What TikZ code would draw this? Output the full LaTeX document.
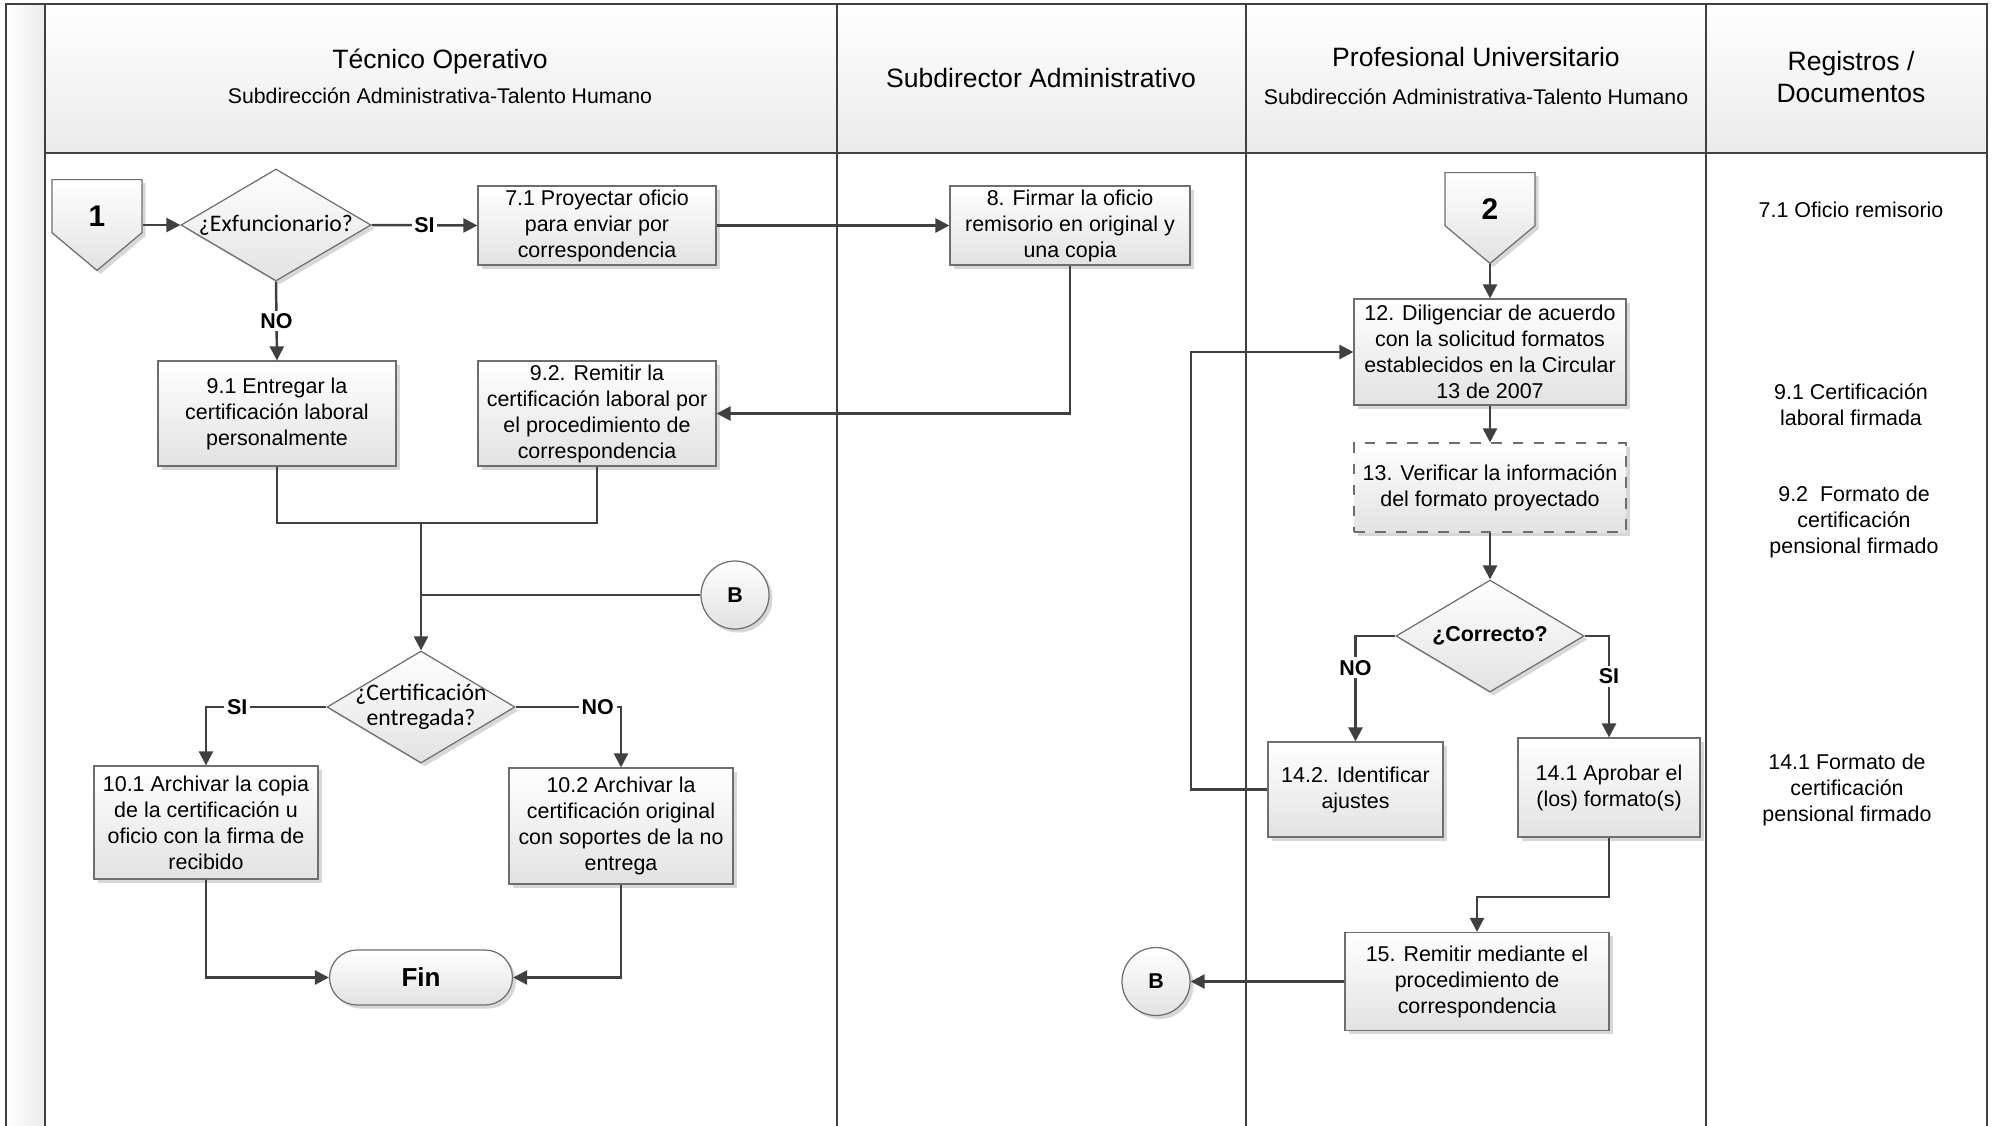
\documentclass[tikz,border=0pt]{standalone}
\usepackage{fontspec}
\setmainfont{Liberation Sans}
\newfontfamily\calib{Carlito}
\usetikzlibrary{shapes.geometric,shapes.misc,shapes.symbols,shadows,arrows.meta}

\definecolor{linegray}{HTML}{404040}
\definecolor{boxgray}{HTML}{6E6E6E}
\definecolor{fillgray}{HTML}{E2E2E2}

\begin{document}
\begin{tikzpicture}[x=1cm, y=1cm,
	every node/.style={font=\fontsize{6.1}{7.4}\selectfont, align=center, inner sep=1pt},
	boxshadow/.style={drop shadow={shadow xshift=1pt, shadow yshift=-1pt, fill=black!45, opacity=0.35}},
	stepbox/.style={rectangle, draw=boxgray, line width=0.35pt, top color=white, bottom color=fillgray, boxshadow},
	decision/.style={diamond, aspect=1.7, draw=boxgray, line width=0.35pt, top color=white, bottom color=fillgray, boxshadow, inner sep=-2pt, minimum width=1.9cm, minimum height=1.12cm},
	offpage/.style={signal, signal to=south, signal pointer angle=100, draw=boxgray, line width=0.35pt, top color=white, bottom color=fillgray, boxshadow, inner sep=0pt, text height=0.4cm, text depth=0pt, minimum width=0.9cm, minimum height=0.6cm, anchor=north, font=\bfseries\fontsize{8.5}{9}\selectfont},
	onpage/.style={circle, draw=boxgray, line width=0.35pt, top color=white, bottom color=fillgray, boxshadow, inner sep=0pt, minimum size=0.68cm, font=\bfseries\fontsize{6.1}{7}\selectfont},
	term/.style={rounded rectangle, draw=boxgray, line width=0.35pt, top color=white, bottom color=fillgray, boxshadow, minimum width=1.9cm, minimum height=0.55cm, font=\bfseries\fontsize{7.4}{8}\selectfont},
	lane/.style={draw=linegray, line width=0.65pt},
	flow/.style={draw=linegray, line width=0.7pt},
	flowarr/.style={flow, -{Triangle[length=4pt, width=4pt]}},
	lbl/.style={fill=white, font=\bfseries\fontsize{6.1}{7}\selectfont, inner sep=0.8pt},
	title/.style={font=\fontsize{7.55}{9.1}\selectfont},
	subtitle/.style={font=\fontsize{6.05}{7.2}\selectfont},
	]
\useasboundingbox (0,0) rectangle (19.95,-11.25);

\shade[top color=white, bottom color=black!8] (0.45,-0.04) rectangle (19.87,-1.53);
\shade[left color=white, right color=black!8] (0.06,-0.04) rectangle (0.45,-11.30);

\draw[lane] (0.06,-11.30) -- (0.06,-0.04) -- (19.87,-0.04) -- (19.87,-11.30);
\draw[lane] (0.45,-0.04) -- (0.45,-11.30);
\draw[lane] (8.37,-0.04) -- (8.37,-11.30);
\draw[lane] (12.46,-0.04) -- (12.46,-11.30);
\draw[lane] (17.06,-0.04) -- (17.06,-11.30);
\draw[lane] (0.45,-1.53) -- (19.87,-1.53);

\node[title] (h1) at (4.40, -0.61) {Técnico Operativo};
\node[subtitle] (h1s) at (4.40, -0.955) {Subdirección Administrativa-Talento Humano};
\node[title] (h2) at (10.41, -0.78) {Subdirector Administrativo};
\node[title] (h3) at (14.76, -0.575) {Profesional Universitario};
\node[subtitle] (h3s) at (14.76, -0.97) {Subdirección Administrativa-Talento Humano};
\node[title] (h4) at (18.51, -0.77) {Registros /\\Documentos};

\node[offpage] (con1) at (0.97, -1.79) {1};
\node[decision, font=\calib\fontsize{6.75}{7.2}\selectfont] (dec1) at (2.76, -2.25) {¿Exfuncionario?};
\node[stepbox, minimum width=2.38cm, minimum height=0.79cm] (s71) at (5.97, -2.255) {7.1 Proyectar oficio\\para enviar por\\correspondencia};
\node[stepbox, minimum width=2.40cm, minimum height=0.79cm] (s8) at (10.70, -2.255) {8. Firmar la oficio\\remisorio en original y\\una copia};

\node[stepbox, minimum width=2.38cm, minimum height=1.05cm] (s91) at (2.77, -4.135) {9.1 Entregar la\\certificación laboral\\personalmente};
\node[stepbox, minimum width=2.38cm, minimum height=1.05cm] (s92) at (5.97, -4.135) {9.2. Remitir la\\certificación laboral por\\el procedimiento de\\correspondencia};

\coordinate (j1) at (4.21, -5.23);
\node[onpage] (cb1) at (7.35, -5.95) {B};
\node[decision, minimum width=1.88cm, font=\calib\fontsize{6.75}{7.2}\selectfont] (dec2) at (4.21, -7.07) {¿Certificación\\entregada?};

\node[stepbox, minimum width=2.24cm, minimum height=1.13cm] (s101) at (2.06, -8.225) {10.1 Archivar la copia\\de la certificación u\\oficio con la firma de\\recibido};
\node[stepbox, minimum width=2.24cm, minimum height=1.16cm] (s102) at (6.21, -8.26) {10.2 Archivar la\\certificación original\\con soportes de la no\\entrega};
\node[term] (fin) at (4.21, -9.775) {Fin};

\node[offpage] (con2) at (14.90, -1.72) {2};
\node[stepbox, minimum width=2.72cm, minimum height=1.06cm] (s12) at (14.90, -3.52) {12. Diligenciar de acuerdo\\con la solicitud formatos\\establecidos en la Circular\\13 de 2007};
\node[stepbox, dashed, minimum width=2.72cm, minimum height=0.89cm] (s13) at (14.90, -4.875) {13. Verificar la información\\del formato proyectado};
\node[decision, minimum width=1.88cm, font=\bfseries\fontsize{6.1}{7}\selectfont] (dec3) at (14.90, -6.36) {¿Correcto?};
\node[stepbox, minimum width=1.75cm, minimum height=0.95cm] (s142) at (13.555, -7.895) {14.2. Identificar\\ajustes};
\node[stepbox, minimum width=1.82cm, minimum height=0.99cm] (s141) at (16.09, -7.875) {14.1 Aprobar el\\(los) formato(s)};
\coordinate (k1) at (11.91, -7.895);
\coordinate (k2) at (16.09, -8.97);
\node[stepbox, minimum width=2.64cm, minimum height=0.98cm] (s15) at (14.77, -9.815) {15. Remitir mediante el\\procedimiento de\\correspondencia};
\node[onpage] (cb2) at (11.56, -9.815) {B};

\node (r71) at (18.51, -2.10) {7.1 Oficio remisorio};
\node (r91) at (18.51, -4.045) {9.1 Certificación\\laboral firmada};
\node (r92) at (18.54, -5.22) {9.2~ Formato de\\certificación\\pensional firmado};
\node (r141) at (18.47, -7.90) {14.1 Formato de\\certificación\\pensional firmado};

\draw[flowarr] (dec1.west -| con1.east) -- (dec1.west);
\draw[flowarr] (dec1.east) -- node[lbl] {SI} (s71.west);
\draw[flowarr] (s71.east) -- (s8.west);
\draw[flowarr] (s8.south) |- (s92.east);
\draw[flowarr] (dec1.south) -- node[lbl] {NO} (s91.north);

\draw[flow] (s91.south) |- (j1) -| (s92.south);
\draw[flow] (cb1.west) -- (cb1.west -| j1);
\draw[flowarr] (j1) -- (dec2.north);

\draw[flowarr] (dec2.west) -| node[lbl, pos=0.37] {SI} (s101.north);
\draw[flowarr] (dec2.east) -| node[lbl, pos=0.39] {NO} (s102.north);
\draw[flowarr] (s101.south) |- (fin.west);
\draw[flowarr] (s102.south) |- (fin.east);

\draw[flowarr] (con2.south) -- (s12.north);
\draw[flowarr] (s12.south) -- (s13.north);
\draw[flowarr] (s13.south) -- (dec3.north);
\draw[flowarr] (dec3.west) -| node[lbl, pos=0.65] {NO} (s142.north);
\draw[flowarr] (dec3.east) -| node[lbl, pos=0.70] {SI} (s141.north);
\draw[flowarr] (s142.west) -- (k1) |- (s12.west);
\draw[flowarr] (s141.south) -- (k2) -| (s15.north);
\draw[flowarr] (s15.west) -- (cb2.east);
\end{tikzpicture}
\end{document}
